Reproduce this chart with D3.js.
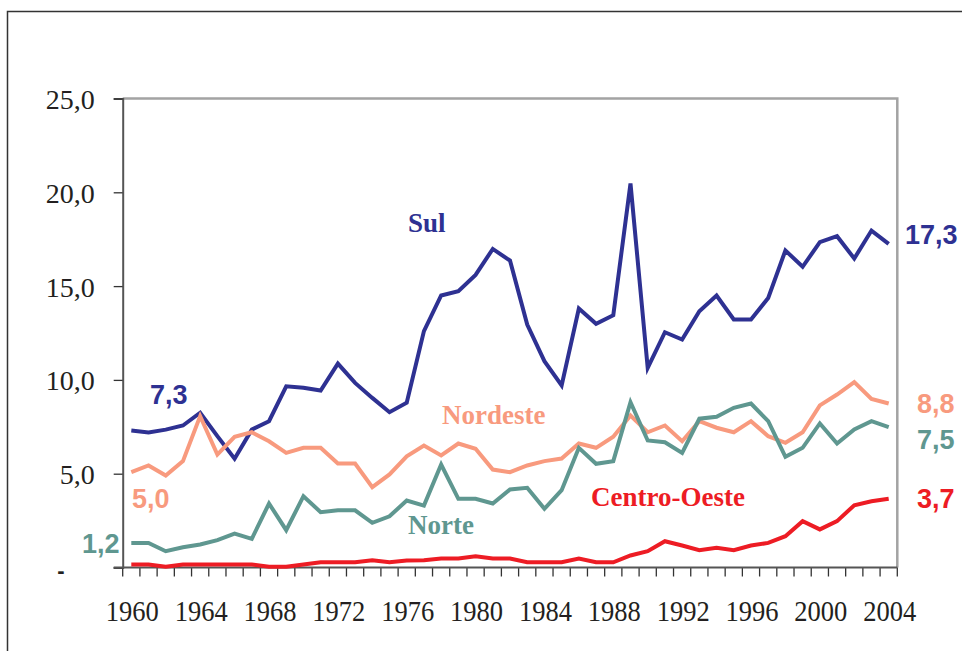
<!DOCTYPE html>
<html>
<head>
<meta charset="utf-8">
<script src="https://cdn.jsdelivr.net/npm/d3@7"></script>
<style>
  body { margin: 0; background: #fff; }
  svg { display: block; }
</style>
</head>
<body>
<svg id="chart" width="962" height="651"></svg>
<script>
    var years = d3.range(1960, 2005);

    // values
    var sul = [7.3, 7.2, 7.35, 7.57, 8.25, 7.0, 5.8, 7.35, 7.8, 9.66, 9.58, 9.43, 10.87, 9.84, 9.04, 8.28, 8.78,
      12.6, 14.5, 14.73, 15.6, 16.98, 16.36, 12.95, 11.0, 9.7, 13.8, 12.99, 13.45, 20.47, 10.64,
      12.54, 12.15, 13.66, 14.5, 13.22, 13.22, 14.37, 16.9, 16.03, 17.34, 17.66, 16.47, 17.96, 17.25];
    var nordeste = [5.08, 5.44, 4.9, 5.67, 8.07, 6.02, 6.97, 7.21, 6.73, 6.11, 6.38, 6.38, 5.54, 5.54, 4.28, 4.96, 5.93,
      6.5, 5.97, 6.61, 6.33, 5.22, 5.08, 5.44, 5.67, 5.81, 6.61, 6.38, 6.97, 8.1, 7.21,
      7.57, 6.73, 7.8, 7.45, 7.21, 7.8, 7.0, 6.65, 7.21, 8.64, 9.22, 9.88, 8.99, 8.74];
    var norte = [1.31, 1.31, 0.87, 1.08, 1.23, 1.46, 1.81, 1.53, 3.41, 1.99, 3.8, 2.95, 3.05, 3.05, 2.38, 2.73, 3.57,
      3.3, 5.49, 3.66, 3.66, 3.41, 4.16, 4.25, 3.13, 4.12, 6.38, 5.53, 5.67, 8.81, 6.77,
      6.68, 6.11, 7.93, 8.03, 8.51, 8.74, 7.8, 5.9, 6.38, 7.68, 6.61, 7.36, 7.8, 7.48];
    var centroOeste = [0.16, 0.16, 0.04, 0.16, 0.16, 0.16, 0.16, 0.16, 0.04, 0.04, 0.16, 0.28, 0.28, 0.28, 0.39, 0.28, 0.37,
      0.39, 0.48, 0.48, 0.6, 0.48, 0.48, 0.28, 0.28, 0.28, 0.48, 0.28, 0.28, 0.64, 0.87,
      1.4, 1.17, 0.92, 1.05, 0.92, 1.17, 1.31, 1.67, 2.47, 2.03, 2.47, 3.32, 3.53, 3.66];

    var yTicks = [0, 5, 10, 15, 20, 25];
    var xLabels = d3.range(1960, 2005, 4);

    var series = [
      {name: "Sul", values: sul, color: "#2e3192", lx: 408, ly: 232, first: "7,3", fx: 150, fy: 404, last: "17,3", ex: 905, ey: 244},
      {name: "Nordeste", values: nordeste, color: "#f89a7e", lx: 442, ly: 424, first: "5,0", fx: 132, fy: 508, last: "8,8", ex: 917, ey: 413},
      {name: "Norte", values: norte, color: "#5f9790", lx: 408, ly: 534, first: "1,2", fx: 82, fy: 553, last: "7,5", ex: 917, ey: 449},
      {name: "Centro-Oeste", values: centroOeste, color: "#ed1c24", lx: 591, ly: 506, first: null, last: "3,7", ex: 917, ey: 508}
    ];

    var svg = d3.select("#chart");
    var pLeft = 122.7, pRight = 897.3, pTop = 98.5, pBottom = 567.5;

    var x = d3.scaleBand().domain(years).range([pLeft, pRight]);
    var y = d3.scaleLinear().domain([0, 25]).range([pBottom, pTop]);
    var br = d3.formatLocale({decimal: ",", thousands: ".", grouping: [3], currency: ["", ""]});
    var fmt = br.format(".1f");

    // outer frame
    svg.append("path")
        .attr("d", "M7.5,651V11.5H962")
        .attr("fill", "none")
        .attr("stroke", "#333")
        .attr("stroke-width", 1.5);

    // plot border top / right
    svg.append("path")
        .attr("d", "M" + pLeft + "," + pTop + "H" + pRight + "V" + pBottom)
        .attr("fill", "none")
        .attr("stroke", "#a3a3a3")
        .attr("stroke-width", 2.5);

    // y axis
    var yAxis = d3.axisLeft(y)
        .tickValues(yTicks)
        .tickSize(9)
        .tickPadding(0)
        .tickFormat(function(d){ return d === 0 ? "" : fmt(d); });
    var gy = svg.append("g")
        .attr("transform", "translate(" + pLeft + ",0)")
        .call(yAxis);
    gy.select(".domain").attr("stroke", "#555").attr("stroke-width", 2);
    gy.selectAll(".tick line").attr("stroke", "#333").attr("stroke-width", 1.3);
    gy.selectAll(".tick text")
        .attr("x", -28)
        .attr("dy", "0.36em")
        .style("font-family", "'Liberation Serif', 'Times New Roman', serif")
        .style("font-size", "28px")
        .attr("fill", "#231f20");
    svg.append("text")
        .attr("x", 61)
        .attr("y", y(0) + 10)
        .attr("text-anchor", "middle")
        .style("font-family", "'Liberation Sans', Arial, sans-serif")
        .style("font-size", "22px")
        .style("font-weight", "bold")
        .attr("fill", "#231f20")
        .text("-");

    // x axis: ticks on band edges
    var edges = years.map(function(d){ return x(d); }).concat([pRight]);
    svg.append("g").selectAll("line")
        .data(edges)
        .enter().append("line")
        .attr("x1", function(d){ return d; })
        .attr("x2", function(d){ return d; })
        .attr("y1", pBottom)
        .attr("y2", pBottom + 9)
        .attr("stroke", "#333")
        .attr("stroke-width", 1.3);
    svg.append("line")
        .attr("x1", pLeft - 9).attr("x2", pRight)
        .attr("y1", pBottom).attr("y2", pBottom)
        .attr("stroke", "#555")
        .attr("stroke-width", 2);

    svg.append("g").selectAll("text")
        .data(xLabels)
        .enter().append("text")
        .attr("x", function(d){ return x(d) + x.bandwidth() / 2 + 1; })
        .attr("y", 621)
        .attr("text-anchor", "middle")
        .style("font-family", "'Liberation Serif', 'Times New Roman', serif")
        .style("font-size", "30px")
        .attr("fill", "#231f20")
        .attr("textLength", 53)
        .attr("lengthAdjust", "spacingAndGlyphs")
        .text(function(d){ return d; });

    // lines
    var line = d3.line()
        .x(function(d, i){ return x(years[i]) + x.bandwidth() / 2; })
        .y(function(d){ return y(d); });

    series.forEach(function(s){
      svg.append("path")
          .datum(s.values)
          .attr("d", line)
          .attr("fill", "none")
          .attr("stroke", s.color)
          .attr("stroke-width", 4)
          .attr("stroke-linejoin", "miter");
    });

    // line names
    series.forEach(function(s){
      svg.append("text")
          .attr("x", s.lx)
          .attr("y", s.ly)
          .style("font-family", "'Liberation Serif', 'Times New Roman', serif")
          .style("font-size", "27px")
          .style("font-weight", "bold")
          .attr("fill", s.color)
          .text(s.name);
    });

    // start / end values
    series.forEach(function(s){
      if (s.first) {
        svg.append("text")
            .attr("x", s.fx)
            .attr("y", s.fy)
            .style("font-family", "'Liberation Sans', Arial, sans-serif")
            .style("font-size", "27px")
            .style("font-weight", "bold")
            .attr("fill", s.color)
            .text(s.first);
      }
      svg.append("text")
          .attr("x", s.ex)
          .attr("y", s.ey)
          .style("font-family", "'Liberation Sans', Arial, sans-serif")
          .style("font-size", "27px")
          .style("font-weight", "bold")
          .attr("fill", s.color)
          .text(s.last);
    });
</script>
</body>
</html>
